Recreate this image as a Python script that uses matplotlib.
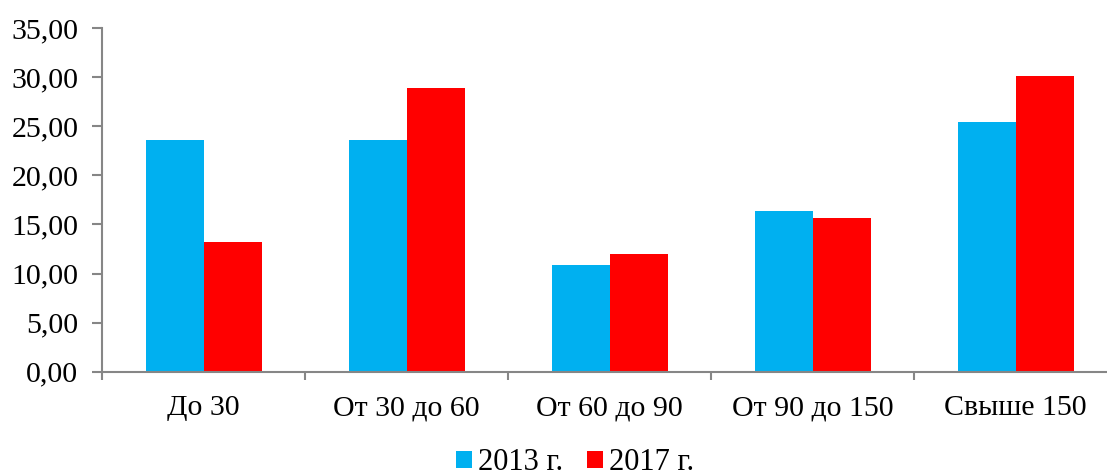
import matplotlib
matplotlib.use("Agg")
import matplotlib.pyplot as plt
from matplotlib.patches import Patch
from matplotlib.ticker import FixedLocator, FuncFormatter

categories = ["До 30", "От 30 до 60", "От 60 до 90", "От 90 до 150", "Свыше 150"]
series_names = ["2013 г.", "2017 г."]
values_2013 = [23.63, 23.63, 10.87, 16.33, 25.43]
values_2017 = [13.21, 28.89, 12.02, 15.62, 30.11]
colors = ["#00B0F0", "#FF0000"]
yticks = [0, 5, 10, 15, 20, 25, 30, 35]

plt.rcParams['font.family'] = ['Liberation Serif', 'DejaVu Serif']

W, H = 1107, 476
fig = plt.figure(figsize=(W / 100, H / 100), dpi=100)
left, right = 102, 1117
top, bottom = 28, 371.7
ax = fig.add_axes([left / W, (H - bottom) / H, (right - left) / W, (bottom - top) / H])

x = list(range(len(categories)))
w = 1 / 3.5
ax.bar([i - w / 2 for i in x], values_2013, width=w, color=colors[0], edgecolor='none')
ax.bar([i + w / 2 for i in x], values_2017, width=w, color=colors[1], edgecolor='none')

ax.set_xlim(-0.5, len(categories) - 0.5)
ax.set_ylim(0, 35)
ax.set_yticks(yticks)
ax.yaxis.set_major_formatter(FuncFormatter(lambda v, p: f"{v:.2f}".replace('.', ',')))
ax.set_xticks(x)
ax.set_xticklabels(categories)
ax.xaxis.set_minor_locator(FixedLocator([i - 0.5 for i in range(len(categories) + 1)]))

axis_color = "#868686"
for s in ['top', 'right']:
    ax.spines[s].set_visible(False)
for s in ['left', 'bottom']:
    ax.spines[s].set_color(axis_color)
    ax.spines[s].set_linewidth(1.5)

ax.tick_params(axis='y', length=7, width=1.5, color=axis_color, labelsize=21.5, pad=10)
ax.tick_params(axis='x', which='major', length=0, labelsize=21.5, pad=17)
ax.tick_params(axis='x', which='minor', length=6, width=1.5, color=axis_color)

handles = [Patch(facecolor=c, edgecolor='none') for c in colors]
fig.legend(handles, series_names, loc='center', bbox_to_anchor=(575 / W, 1 - 463 / H),
           ncol=2, frameon=False, fontsize=22, handlelength=0.5, handleheight=0.5,
           handletextpad=0.2, columnspacing=0.8, borderpad=0, borderaxespad=0)

fig.savefig("out.png", dpi=100)
